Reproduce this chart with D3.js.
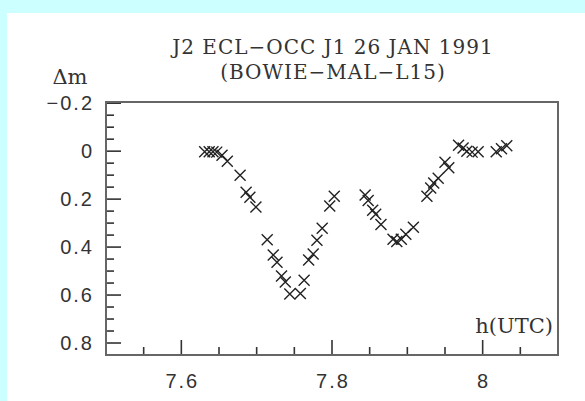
<!DOCTYPE html>
<html><head><meta charset="utf-8">
<script src="https://cdn.jsdelivr.net/npm/d3@7"></script>
<style>
html,body{margin:0;padding:0;background:#ccffff;}
svg{display:block;}
</style></head>
<body>
<svg id="chart" width="585" height="401"></svg>
<script>
// Data: time (h UTC) and magnitude drop Δm
const timeUTC = [7.631,7.637,7.642,7.647,7.654,7.661,7.678,7.686,7.691,7.699,7.714,7.722,7.727,7.733,7.738,7.744,7.758,7.763,7.769,7.775,7.780,7.787,7.797,7.803,7.844,7.848,7.854,7.858,7.865,7.881,7.886,7.892,7.898,7.908,7.926,7.931,7.935,7.941,7.950,7.955,7.968,7.974,7.979,7.986,7.994,8.018,8.025,8.032];
const deltaMag = [0.002,0.002,0.002,0.004,0.017,0.042,0.100,0.171,0.192,0.233,0.369,0.433,0.463,0.521,0.546,0.596,0.594,0.538,0.454,0.429,0.371,0.321,0.229,0.188,0.183,0.206,0.246,0.263,0.306,0.367,0.377,0.367,0.346,0.317,0.188,0.154,0.133,0.113,0.046,0.069,-0.025,-0.013,0,0.004,0.002,0.002,-0.010,-0.023];
const xMajorTicks = [7.6, 7.8, 8];
const xTickLabels = ["7.6", "7.8", "8"];
const yMajorTicks = [-0.2, 0, 0.2, 0.4, 0.6, 0.8];
const yTickLabels = ["\u22120.2", "0", "0.2", "0.4", "0.6", "0.8"];
const titleLines = ["J2 ECL\u2212OCC J1 26 JAN 1991", "(BOWIE\u2212MAL\u2212L15)"];
const xLabel = "h(UTC)";
const yLabel = "\u0394m";

const svg = d3.select("#chart");
svg.append("rect").attr("x",7).attr("y",13).attr("width",578).attr("height",388).attr("fill","#ffffff");

const L=106, R=558, T=102, B=355;
const x = d3.scaleLinear().domain([7.5, 8.1]).range([L, R]);
const y = d3.scaleLinear().domain([-0.205, 0.85]).range([T, B]);

const ink = "#333";
const g = svg.append("g");

const xMinor = d3.range(7.55, 8.1, 0.05).filter(v => !xMajorTicks.some(m => Math.abs(m-v)<1e-6));
const yMinor = d3.range(-0.15, 0.85, 0.05).filter(v => !yMajorTicks.some(m => Math.abs(m-v)<1e-6));

g.selectAll(".xmaj").data(xMajorTicks).join("line")
  .attr("x1", d=>x(d)).attr("x2", d=>x(d)).attr("y1", B).attr("y2", B-15)
  .attr("stroke", ink).attr("stroke-width", 1.6);
g.selectAll(".xmin").data(xMinor).join("line")
  .attr("x1", d=>x(d)).attr("x2", d=>x(d)).attr("y1", B).attr("y2", B-8)
  .attr("stroke", ink).attr("stroke-width", 1.6);
g.selectAll(".ymaj").data(yMajorTicks).join("line")
  .attr("y1", d=>y(d)).attr("y2", d=>y(d)).attr("x1", L).attr("x2", L+15)
  .attr("stroke", ink).attr("stroke-width", 1.6);
g.selectAll(".ymin").data(yMinor).join("line")
  .attr("y1", d=>y(d)).attr("y2", d=>y(d)).attr("x1", L).attr("x2", L+8)
  .attr("stroke", ink).attr("stroke-width", 1.6);

g.append("rect").attr("x",L).attr("y",T).attr("width",R-L).attr("height",B-T)
  .attr("fill","none").attr("stroke","#666").attr("stroke-width",2);

const sans = "'Liberation Sans', Arial, sans-serif";
g.selectAll(".xl").data(xMajorTicks).join("text")
  .attr("x", d=>x(d)+1).attr("y", B+33).attr("text-anchor","middle")
  .attr("font-family",sans).attr("font-size",20).attr("letter-spacing",2).attr("fill",ink)
  .text((d,i)=>xTickLabels[i]);
g.selectAll(".yl").data(yMajorTicks).join("text")
  .attr("x", L-12).attr("y", d=>y(d)).attr("dy","0.36em").attr("text-anchor","end")
  .attr("font-family",sans).attr("font-size",20).attr("letter-spacing",2).attr("fill",ink)
  .text((d,i)=>yTickLabels[i]);

const serif = "'DejaVu Serif', 'Liberation Serif', serif";
g.selectAll(".title").data(titleLines).join("text")
  .attr("x", 333).attr("y", (d,i)=> 54 + i*25).attr("text-anchor","middle")
  .attr("font-family", serif).attr("font-size", 20).attr("letter-spacing",1).attr("fill", ink)
  .text(d=>d);
g.append("text").attr("x", 70).attr("y", 84).attr("text-anchor","middle")
  .attr("font-family", serif).attr("font-size", 21).attr("fill", ink).text(yLabel);
g.append("text").attr("x", 553).attr("y", 333).attr("text-anchor","end")
  .attr("font-family", serif).attr("font-size", 21).attr("fill", ink).text(xLabel);

const s = 5.5;
const pts = timeUTC.map((t,i)=>({t, m: deltaMag[i]}));
g.selectAll(".pt").data(pts).join("path")
  .attr("d", d => {
    const cx = x(d.t), cy = y(d.m);
    return `M${cx-s},${cy-s}L${cx+s},${cy+s}M${cx-s},${cy+s}L${cx+s},${cy-s}`;
  })
  .attr("stroke", "#222").attr("stroke-width", 1.4).attr("fill","none");
</script>
</body></html>
